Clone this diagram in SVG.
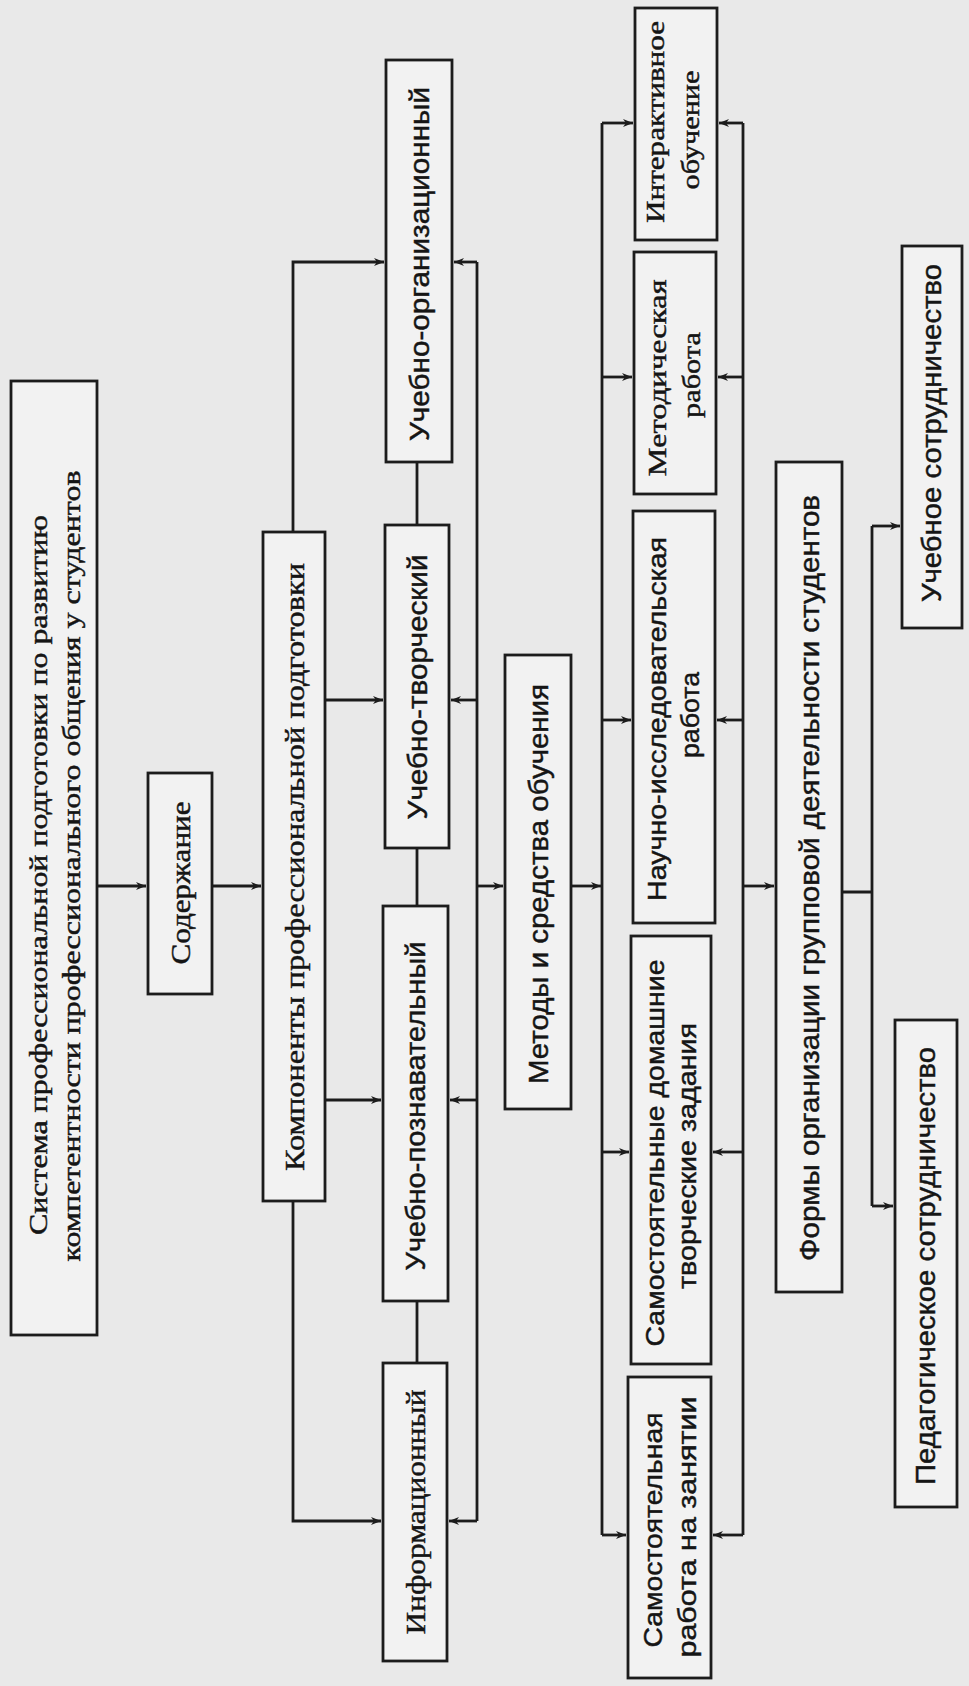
<svg xmlns="http://www.w3.org/2000/svg" width="969" height="1686" viewBox="0 0 969 1686">
<style>
.bg{fill:#e9e9e9}
.box{fill:#f2f2f2;stroke:#1c1c1c;stroke-width:2.8}
.ln{fill:none;stroke:#1c1c1c;stroke-width:2.8}
.ar{fill:none;stroke:#1c1c1c;stroke-width:2.8;marker-end:url(#ah)}
.t{fill:#151515;stroke:#151515;stroke-width:0.45;font-size:28px;text-anchor:middle}
.s{font-family:"Liberation Sans","DejaVu Sans",sans-serif}
.r{font-family:"Liberation Serif","DejaVu Serif",serif}
.t2{font-size:26px}
</style>
<defs>
<marker id="ah" markerUnits="userSpaceOnUse" markerWidth="12" markerHeight="10" refX="10" refY="4" orient="auto">
<path d="M0,0 L10,4 L0,8 L3,4 z" fill="#1c1c1c"/>
</marker>
</defs>
<rect class="bg" x="0" y="0" width="969" height="1686"/>

<g id="connectors">
<path class="ar" d="M97,886 H146"/>
<path class="ar" d="M212,886 H261"/>
<path class="ar" d="M293,532 V262 H384"/>
<path class="ar" d="M325,700 H383"/>
<path class="ar" d="M325,1100 H381"/>
<path class="ar" d="M293,1201 V1521 H381"/>
<path class="ln" d="M417,462 V525 M417,848 V906 M417,1301 V1363"/>
<path class="ln" d="M477,262 V1521"/>
<path class="ar" d="M477,262 H454"/>
<path class="ar" d="M477,700 H451"/>
<path class="ar" d="M477,1100 H450"/>
<path class="ar" d="M477,1521 H449"/>
<path class="ar" d="M477,886 H503"/>
<path class="ar" d="M571,886 H601"/>
<path class="ln" d="M602,123 V1535"/>
<path class="ln" d="M743,123 V1535"/>
<path class="ar" d="M602,123 H633"/>
<path class="ar" d="M602,377 H632"/>
<path class="ar" d="M602,720 H631"/>
<path class="ar" d="M602,1152 H629"/>
<path class="ar" d="M602,1535 H626"/>
<path class="ar" d="M743,123 H719"/>
<path class="ar" d="M743,377 H718"/>
<path class="ar" d="M743,720 H717"/>
<path class="ar" d="M743,1152 H713"/>
<path class="ar" d="M743,1535 H713"/>
<path class="ar" d="M743,886 H774"/>
<path class="ln" d="M842,892 H872 M872,526 V1206"/>
<path class="ar" d="M872,526 H900"/>
<path class="ar" d="M872,1206 H893"/>
</g>

<g id="n-sistema">
<rect class="box" x="11" y="381" width="86" height="954"/>
<text class="t r t2" transform="translate(47,875) rotate(-90)" textLength="720" lengthAdjust="spacingAndGlyphs">Система профессиональной подготовки по развитию</text>
<text class="t r t2" transform="translate(80,866) rotate(-90)" textLength="791" lengthAdjust="spacingAndGlyphs">компетентности профессионального общения у студентов</text>
</g>

<g id="n-soderzhanie">
<rect class="box" x="148" y="773" width="64" height="221"/>
<text class="t r" transform="translate(190,883) rotate(-90)" textLength="163" lengthAdjust="spacingAndGlyphs">Содержание</text>
</g>

<g id="n-komponenty">
<rect class="box" x="263" y="532" width="62" height="669"/>
<text class="t r" transform="translate(304,867) rotate(-90)" textLength="608" lengthAdjust="spacingAndGlyphs">Компоненты профессиональной подготовки</text>
</g>

<g id="n-uch-org">
<rect class="box" x="386" y="60" width="66" height="402"/>
<text class="t s" transform="translate(429,264) rotate(-90)" textLength="354" lengthAdjust="spacingAndGlyphs">Учебно-организационный</text>
</g>

<g id="n-uch-tvor">
<rect class="box" x="385" y="525" width="64" height="323"/>
<text class="t s" transform="translate(427,687) rotate(-90)" textLength="265" lengthAdjust="spacingAndGlyphs">Учебно-творческий</text>
</g>

<g id="n-uch-pozn">
<rect class="box" x="383" y="906" width="65" height="395"/>
<text class="t s" transform="translate(425,1106) rotate(-90)" textLength="329" lengthAdjust="spacingAndGlyphs">Учебно-познавательный</text>
</g>

<g id="n-inform">
<rect class="box" x="383" y="1363" width="64" height="298"/>
<text class="t r" transform="translate(425,1512) rotate(-90)" textLength="245" lengthAdjust="spacingAndGlyphs">Информационный</text>
</g>

<g id="n-metody">
<rect class="box" x="505" y="655" width="66" height="454"/>
<text class="t s" transform="translate(548,884) rotate(-90)" textLength="400" lengthAdjust="spacingAndGlyphs">Методы и средства обучения</text>
</g>

<g id="n-interakt">
<rect class="box" x="635" y="8" width="82" height="232"/>
<text class="t r t2" transform="translate(664,122) rotate(-90)" textLength="202" lengthAdjust="spacingAndGlyphs">Интерактивное</text>
<text class="t r t2" transform="translate(699,130) rotate(-90)" textLength="119" lengthAdjust="spacingAndGlyphs">обучение</text>
</g>

<g id="n-metodich">
<rect class="box" x="634" y="252" width="82" height="242"/>
<text class="t r t2" transform="translate(666,378) rotate(-90)" textLength="197" lengthAdjust="spacingAndGlyphs">Методическая</text>
<text class="t r t2" transform="translate(700,375) rotate(-90)" textLength="86" lengthAdjust="spacingAndGlyphs">работа</text>
</g>

<g id="n-nauchno">
<rect class="box" x="633" y="511" width="82" height="412"/>
<text class="t s t2" transform="translate(666,719) rotate(-90)" textLength="364" lengthAdjust="spacingAndGlyphs">Научно-исследовательская</text>
<text class="t s t2" transform="translate(699,715) rotate(-90)" textLength="86" lengthAdjust="spacingAndGlyphs">работа</text>
</g>

<g id="n-samost-dom">
<rect class="box" x="631" y="936" width="80" height="428"/>
<text class="t s t2" transform="translate(664,1153) rotate(-90)" textLength="387" lengthAdjust="spacingAndGlyphs">Самостоятельные домашние</text>
<text class="t s t2" transform="translate(696,1156) rotate(-90)" textLength="266" lengthAdjust="spacingAndGlyphs">творческие задания</text>
</g>

<g id="n-samost-rab">
<rect class="box" x="628" y="1377" width="83" height="301"/>
<text class="t s t2" transform="translate(662,1530) rotate(-90)" textLength="235" lengthAdjust="spacingAndGlyphs">Самостоятельная</text>
<text class="t s t2" transform="translate(696,1527) rotate(-90)" textLength="261" lengthAdjust="spacingAndGlyphs">работа на занятии</text>
</g>

<g id="n-formy">
<rect class="box" x="776" y="462" width="66" height="830"/>
<text class="t s" transform="translate(819,878) rotate(-90)" textLength="766" lengthAdjust="spacingAndGlyphs">Формы организации групповой деятельности студентов</text>
</g>

<g id="n-uch-sotr">
<rect class="box" x="902" y="246" width="60" height="382"/>
<text class="t s" transform="translate(941,433) rotate(-90)" textLength="338" lengthAdjust="spacingAndGlyphs">Учебное сотрудничество</text>
</g>

<g id="n-ped-sotr">
<rect class="box" x="895" y="1020" width="62" height="487"/>
<text class="t s" transform="translate(935,1266) rotate(-90)" textLength="438" lengthAdjust="spacingAndGlyphs">Педагогическое сотрудничество</text>
</g>
</svg>
